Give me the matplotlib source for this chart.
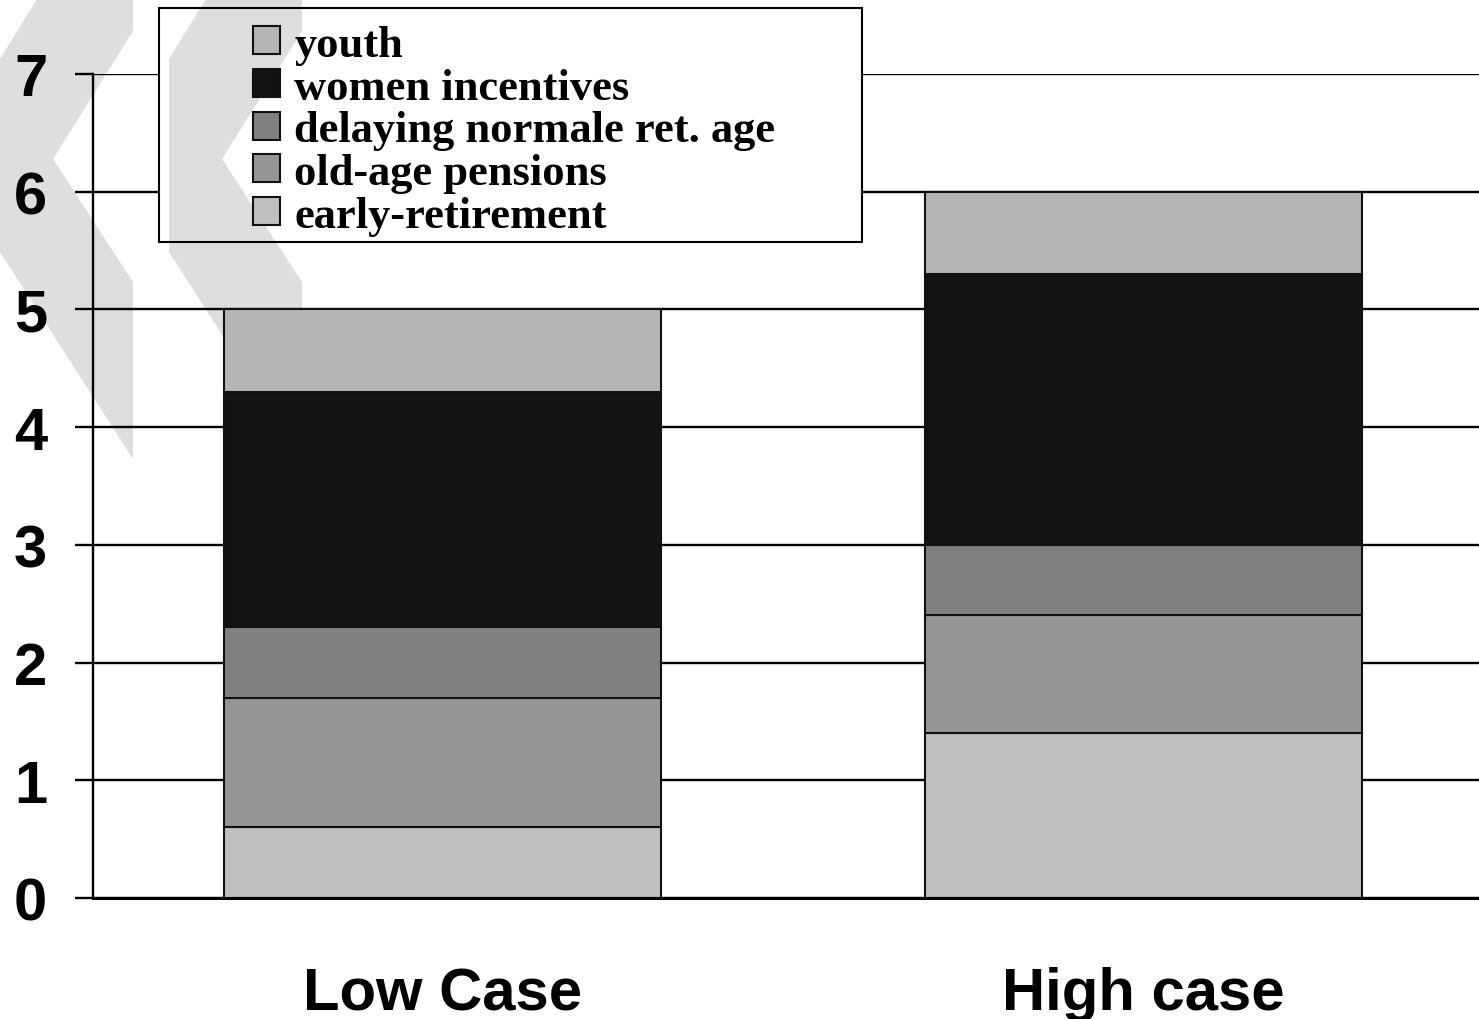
import matplotlib
matplotlib.use("Agg")
import matplotlib.pyplot as plt
from matplotlib.patches import Polygon, Rectangle
from matplotlib.font_manager import FontProperties
import numpy as np

# ---- data ----
categories = ["Low Case", "High case"]
series_names = ["early-retirement", "old-age pensions", "delaying normale ret. age",
                "women incentives", "youth"]
early_retirement = [0.6, 1.4]
old_age_pensions = [1.1, 1.0]
delaying_ret_age = [0.6, 0.6]
women_incentives = [2.0, 2.3]
youth = [0.7, 0.7]
series_values = [early_retirement, old_age_pensions, delaying_ret_age, women_incentives, youth]
series_colors = ["#c0c0c0", "#969696", "#808080", "#131313", "#b5b5b5"]
y_ticks = [0, 1, 2, 3, 4, 5, 6, 7]

W, H = 1479, 1020
fig = plt.figure(figsize=(W / 100, H / 100), dpi=100)
fig.patch.set_facecolor("white")

ax = fig.add_axes([93 / W, 1 - 899 / H, (W - 93) / W, (899 - 75) / H])
ax.set_facecolor("none")

x = np.arange(len(categories))
bottom = np.zeros(len(categories))
containers = []
for name, vals, col in zip(series_names, series_values, series_colors):
    c = ax.bar(x, vals, 0.623, bottom=bottom, color=col, edgecolor="#111111",
               linewidth=1.5, label=name, zorder=2)
    containers.append(c)
    bottom += np.array(vals)

ax.set_xlim(-0.498, 1.479)
ax.set_ylim(0, 7)
ax.set_yticks(y_ticks)
ax.set_axisbelow(True)
ax.yaxis.grid(True, color="black", linewidth=1.7)
ax.xaxis.grid(False)

for s in ["top", "right"]:
    ax.spines[s].set_visible(False)
ax.spines["left"].set_linewidth(1.7)
ax.spines["bottom"].set_linewidth(2.2)

tick_font = FontProperties(family="Liberation Sans", weight="bold", size=43)
ax.set_xticks(x)
ax.set_xticklabels(categories, fontproperties=tick_font)
ax.set_yticklabels([str(v) for v in y_ticks], fontproperties=tick_font)
ax.tick_params(axis="x", length=0, pad=49)
ax.tick_params(axis="y", length=13, width=1.7, pad=20)


# ---- watermark chevrons (decoration) ----
def chevron(x0, clip=None, z=-1):
    pts = [(x0 + 37, 0), (x0 + 133, 0), (x0 + 133, 32), (x0 + 53, 160),
           (x0 + 133, 283), (x0 + 133, 460), (x0, 253), (x0, 60)]
    pts = [(px / W, 1 - py / H) for px, py in pts]
    p = Polygon(pts, closed=True, transform=fig.transFigure, facecolor="#dedede",
                edgecolor="none", zorder=z)
    if clip is not None:
        p.set_clip_path(clip)
    fig.add_artist(p)
    return p


chevron(0)
chevron(169)

# legend box: white background hiding grid lines, watermark visible through it
lx0, ly0, lx1, ly1 = 159, 9, 862, 243
bg = Rectangle((lx0 / W, 1 - ly1 / H), (lx1 - lx0) / W, (ly1 - ly0) / H,
               transform=fig.transFigure, facecolor="white", edgecolor="none", zorder=1)
fig.add_artist(bg)
chevron(0, clip=bg, z=1.5)
chevron(169, clip=bg, z=1.5)
frame = Rectangle((lx0 / W, 1 - ly1 / H), (lx1 - lx0) / W, (ly1 - ly0) / H,
                  transform=fig.transFigure, facecolor="none", edgecolor="black",
                  linewidth=1.5, zorder=2)
fig.add_artist(frame)

leg_font = FontProperties(family="Liberation Serif", weight="bold", size=32)
handles = [c.patches[0] for c in containers][::-1]
labels = series_names[::-1]
leg = fig.legend(handles, labels, loc="upper left",
                 bbox_to_anchor=(253 / W, 1 - 26 / H), bbox_transform=fig.transFigure,
                 frameon=False, prop=leg_font, borderpad=0, borderaxespad=0,
                 handlelength=0.6, handleheight=0.6, handletextpad=0.33,
                 labelspacing=0.06)
leg.set_zorder(3)

fig.savefig("out.png", dpi=100)
